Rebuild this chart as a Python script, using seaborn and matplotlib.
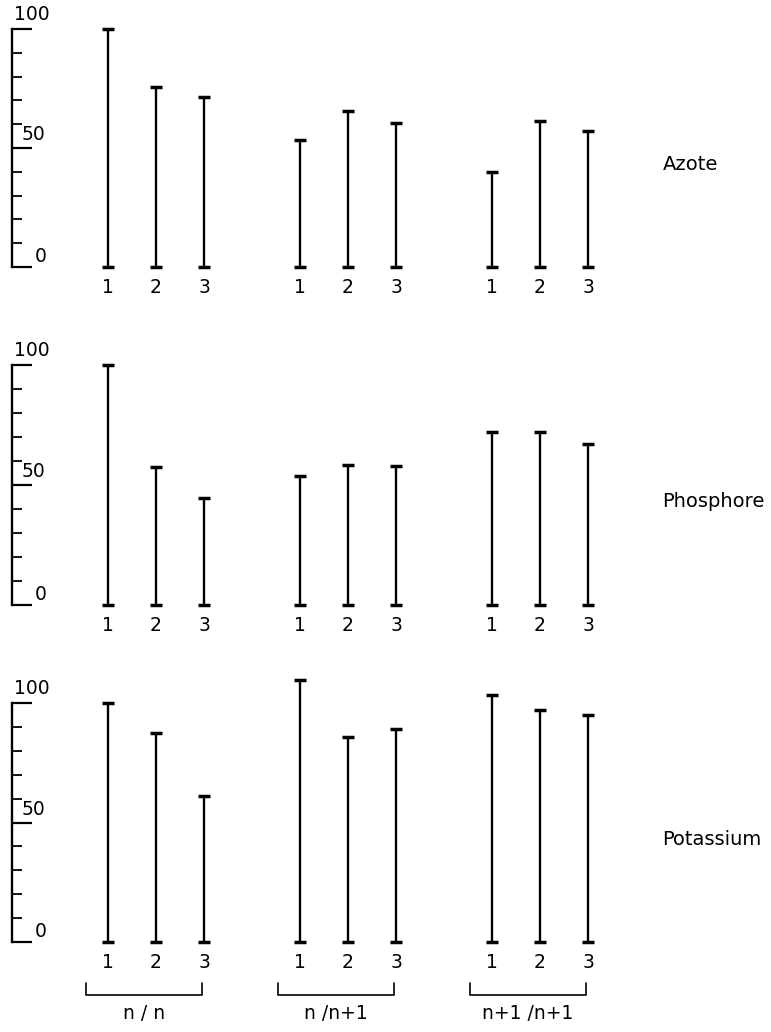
import numpy as np
import pandas as pd
import matplotlib
matplotlib.use("Agg")
import matplotlib.pyplot as plt
import seaborn as sns

# ---------------- data ----------------
nutrients = ["Azote", "Phosphore", "Potassium"]
groups = ["n / n", "n /n+1", "n+1 /n+1"]
treatments = ["1", "2", "3"]
azote = [100, 75.8, 71.6, 53.2, 65.5, 60.4, 40.0, 61.3, 57.0]
phosphore = [100, 57.6, 44.5, 53.7, 58.2, 58.0, 72.1, 72.0, 66.9]
potassium = [100, 87.5, 61.2, 109.8, 85.6, 89.3, 103.5, 97.1, 95.0]
y_ticklabels = ["0", "50", "100"]

values = {"Azote": azote, "Phosphore": phosphore, "Potassium": potassium}

rows = []
for nut in nutrients:
    for gi, g in enumerate(groups):
        for ti, t in enumerate(treatments):
            rows.append(dict(nutrient=nut, group=g, treatment=t,
                             pos=gi * 4 + ti, value=values[nut][gi * 3 + ti]))
df = pd.DataFrame(rows)

# ---------------- style ----------------
sns.set_style("white")
plt.rcParams["font.family"] = ["DejaVu Sans"]
plt.rcParams["text.color"] = "black"

W, H = 771, 1032
fig = plt.figure(figsize=(W / 100, H / 100), dpi=100)

# pixel rows (y=100 top, y=0 bottom) for each panel
panel_px = [(29, 267), (365, 605), (703, 942)]
x_left_px, x_right_px = 12, 636

for i, nut in enumerate(nutrients):
    top, bot = panel_px[i]
    ax = fig.add_axes([x_left_px / W, 1 - bot / H,
                       (x_right_px - x_left_px) / W, (bot - top) / H])
    sub = df[df.nutrient == nut]

    ax.vlines(sub["pos"], 0, sub["value"], color="black", lw=1.7, clip_on=False)
    caps = pd.concat([sub.assign(value=0.0), sub])
    sns.scatterplot(data=caps, x="pos", y="value", marker="_", s=85,
                    linewidth=2.5, color="black", ax=ax, legend=False,
                    clip_on=False, zorder=3)

    ax.set_xlim(-2, 11)
    ax.set_ylim(0, 100)
    ax.set_xlabel("")
    ax.set_ylabel("")
    ax.set_xticks([])
    for s in ["top", "right", "bottom"]:
        ax.spines[s].set_visible(False)
    ax.spines["left"].set_linewidth(1.7)
    ax.spines["left"].set_color("black")
    ax.set_yticks([0, 50, 100])
    ax.set_yticks([10, 20, 30, 40, 60, 70, 80, 90], minor=True)
    ax.tick_params(axis="y", which="major", direction="in", length=14.5,
                   width=1.6, color="black", labelleft=False, left=True)
    ax.tick_params(axis="y", which="minor", direction="in", length=7,
                   width=1.3, color="black", left=True)

    # y tick labels
    ax.text(-1.95, 106, y_ticklabels[2], fontsize=13.5, ha="left",
            va="center", color="black", clip_on=False)
    ax.text(-1.80, 55.5, y_ticklabels[1], fontsize=13.5, ha="left",
            va="center", color="black")
    ax.text(-1.52, 4.3, y_ticklabels[0], fontsize=13.5, ha="left",
            va="center", color="black")

    # treatment labels under bars
    for p, t in zip(sub["pos"], sub["treatment"]):
        ax.text(p, -8.5, t, fontsize=13.5, ha="center", va="center",
                color="black", clip_on=False)

    # nutrient name on the right
    ax.text(11.55, 43, nut, fontsize=14, ha="left", va="center",
            color="black", clip_on=False)

    if i == 2:
        for gi, g in enumerate(groups):
            x0, x1 = gi * 4 - 0.45, gi * 4 + 1.95
            ax.plot([x0, x0, x1, x1], [-17.2, -22.2, -22.2, -17.2],
                    color="black", lw=1.2, clip_on=False)
            ax.text((x0 + x1) / 2, -30, g, fontsize=13.5, ha="center",
                    va="center", color="black", clip_on=False)

fig.savefig("out.png", dpi=100)
